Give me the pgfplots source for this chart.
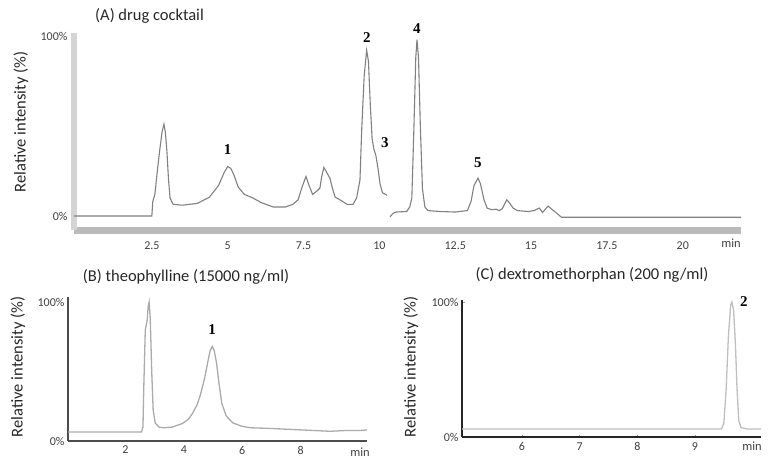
\documentclass[border=0pt]{standalone}
\usepackage{pgfplots}
\pgfplotsset{compat=1.18}
\usepackage{fontspec}
\setmainfont{Carlito}
\newfontfamily\tnr{Liberation Serif}
\newcommand\tfont{\fontsize{16.5bp}{19bp}\selectfont}
\newcommand\pfont{\fontsize{15bp}{17bp}\selectfont\tnr\bfseries}
\begin{document}
\begin{tikzpicture}
\useasboundingbox (0,0) rectangle (771bp,-466bp);
\pgfplotsset{
 every axis/.append style={scale only axis, clip=false, axis lines=left,
   /pgf/number format/assume math mode=true,
   tick label style={font=\fontsize{12bp}{14bp}\selectfont, text=black!75},
   anchor=south west},
}
% ---------- (A)
\begin{axis}[at={(74bp,-230bp)}, width=667bp, height=197bp,
  xmin=-0.066, xmax=21.92, ymin=-7.78, ymax=101.67,
  axis line style={-, line width=5bp, black!17},
  x axis line style={-, line width=7bp, black!27},
  xtick={2.5,5,7.5,10,12.5,15,17.5,20}, xticklabels={2.5,5,7.5,10,12.5,15,17.5,20},
  xticklabel style={yshift=-5bp},
  minor xtick={0.5,1,...,21.5},
  ytick={0,100}, yticklabels={0\%,100\%},
  minor ytick={10,20,...,90},
  tick style={white, line width=0.6bp}, major tick length=6bp, minor tick length=6bp, tick align=center,
]
\addplot[black!50, line width=1.1bp] coordinates {
(-0.066,0) (2.5,0) (2.53,8) (2.6,12) (2.68,25) (2.77,38) (2.84,47) (2.9,51) (2.95,46) (3.0,35) (3.05,20) (3.1,10) (3.2,6.5) (3.5,6) (4.0,7) (4.4,10.5) (4.7,17) (4.88,24) (5.0,27.5) (5.1,26.5) (5.2,23) (5.35,16) (5.55,12) (5.83,10) (6.1,7.5) (6.5,5) (6.9,5) (7.15,6.5) (7.32,9) (7.45,16) (7.58,22) (7.68,17) (7.8,12) (7.95,14) (8.04,15.5) (8.1,22) (8.17,27) (8.27,24) (8.37,21) (8.46,15) (8.54,10.5) (8.7,9) (8.93,6.5) (9.13,6.5) (9.25,10) (9.36,20) (9.42,49) (9.5,78) (9.58,92) (9.64,86) (9.7,62) (9.76,43) (9.82,37) (9.88,34) (9.95,27) (10.02,18) (10.1,13) (10.25,11.5)
};
\addplot[black!50, line width=1.1bp] coordinates {
(10.35,-0.5) (10.45,1.5) (10.55,2.2) (10.9,2.5) (11.0,5) (11.07,10) (11.14,50) (11.2,88) (11.24,98) (11.29,88) (11.35,50) (11.42,15) (11.5,5) (11.6,3) (12.0,2.5) (12.5,2.2) (12.9,3) (13.02,8) (13.12,17) (13.25,21) (13.33,18) (13.45,9) (13.55,4.4) (13.7,3.5) (13.85,3.8) (13.95,3.0) (14.05,4) (14.2,9) (14.3,7) (14.4,4.5) (14.55,3) (14.9,2.5) (15.1,3) (15.27,4.4) (15.38,2) (15.56,5.5) (15.7,3.5) (15.85,1.5) (16.0,-0.7) (21.92,-0.7)
};
\node[font=\pfont] at (axis cs:5.0,36.7) {1};
\node[font=\pfont] at (axis cs:9.59,99.4) {2};
\node[font=\pfont] at (axis cs:10.18,40.5) {3};
\node[font=\pfont] at (axis cs:11.24,104) {4};
\node[font=\pfont] at (axis cs:13.25,29.4) {5};
\end{axis}
% ---------- (B)
\begin{axis}[at={(68bp,-441bp)}, width=299bp, height=144bp,
  xmin=0.034, xmax=10.27, ymin=0, ymax=103.6,
  axis line style={-, line width=1.8bp, black!70},
  xtick={2,4,6,8}, xticklabels={2,4,6,8},
  xticklabel style={yshift=-1.5bp},
  ytick={0,100}, yticklabels={0\%,100\%},
  major tick length=0pt,
]
\addplot[black!33, line width=1.3bp] coordinates {
(0.034,6.5) (2.55,6.5) (2.6,10) (2.63,40) (2.68,80) (2.74,86) (2.78,97) (2.81,100) (2.85,88) (2.9,50) (2.95,22) (3.02,13) (3.15,10) (3.3,9.5) (3.6,10) (3.94,12.5) (4.15,15.5) (4.3,20) (4.45,26) (4.55,32) (4.65,40) (4.72,46) (4.82,57) (4.9,65) (4.97,68) (5.04,65) (5.12,56) (5.2,42) (5.3,27) (5.45,18) (5.68,13) (6.0,10.5) (6.3,9.5) (7,9) (7.5,8.5) (8,8) (8.5,7.5) (9,7) (9.5,7.5) (10,7.5) (10.27,8)
};
\node[font=\pfont] at (axis cs:4.97,80) {1};
\end{axis}
% ---------- (C)
\begin{axis}[at={(462bp,-437bp)}, width=299bp, height=137bp,
  xmin=4.96, xmax=10.145, ymin=0, ymax=101.5,
  axis line style={-, line width=1.8bp, black!85},
  xtick={6,7,8,9}, xticklabels={6,7,8,9},
  xticklabel style={yshift=-2bp},
  ytick={0,100}, yticklabels={0\%,100\%},
  major tick length=2.5bp, tick align=inside, tick style={black!40, line width=0.6bp},
]
\addplot[black!25, line width=1.3bp] coordinates {
(4.96,6) (9.46,6) (9.5,10) (9.54,35) (9.58,75) (9.62,98) (9.64,100) (9.67,94) (9.7,70) (9.73,35) (9.76,12) (9.8,7) (9.9,6) (10.145,6)
};
\node[font=\pfont] at (axis cs:9.85,100) {2};
\end{axis}
% ---------- texts
\node[font=\tfont, anchor=west, inner sep=0pt, text=black!85] at (95bp,-16bp) {(A) drug cocktail};
\node[font=\tfont, inner sep=0pt, text=black!85] at (186bp,-277bp) {(B) theophylline (15000 ng/ml)};
\node[font=\tfont, inner sep=0pt, text=black!85] at (592bp,-275bp) {(C) dextromethorphan (200 ng/ml)};
\node[font=\tfont, rotate=90, inner sep=0pt, text=black!85] at (21bp,-122bp) {Relative intensity (\%)};
\node[font=\tfont, rotate=90, inner sep=0pt, text=black!85] at (18bp,-367bp) {Relative intensity (\%)};
\node[font=\tfont, rotate=90, inner sep=0pt, text=black!85] at (411bp,-367bp) {Relative intensity (\%)};
\node[font=\fontsize{12.5bp}{14bp}\selectfont, inner sep=0pt, text=black!75] at (731bp,-243bp) {min};
\node[font=\fontsize{12.5bp}{14bp}\selectfont, inner sep=0pt, text=black!75] at (360bp,-452bp) {min};
\node[font=\fontsize{12.5bp}{14bp}\selectfont, inner sep=0pt, text=black!75] at (752bp,-446bp) {min};
\end{tikzpicture}
\end{document}
